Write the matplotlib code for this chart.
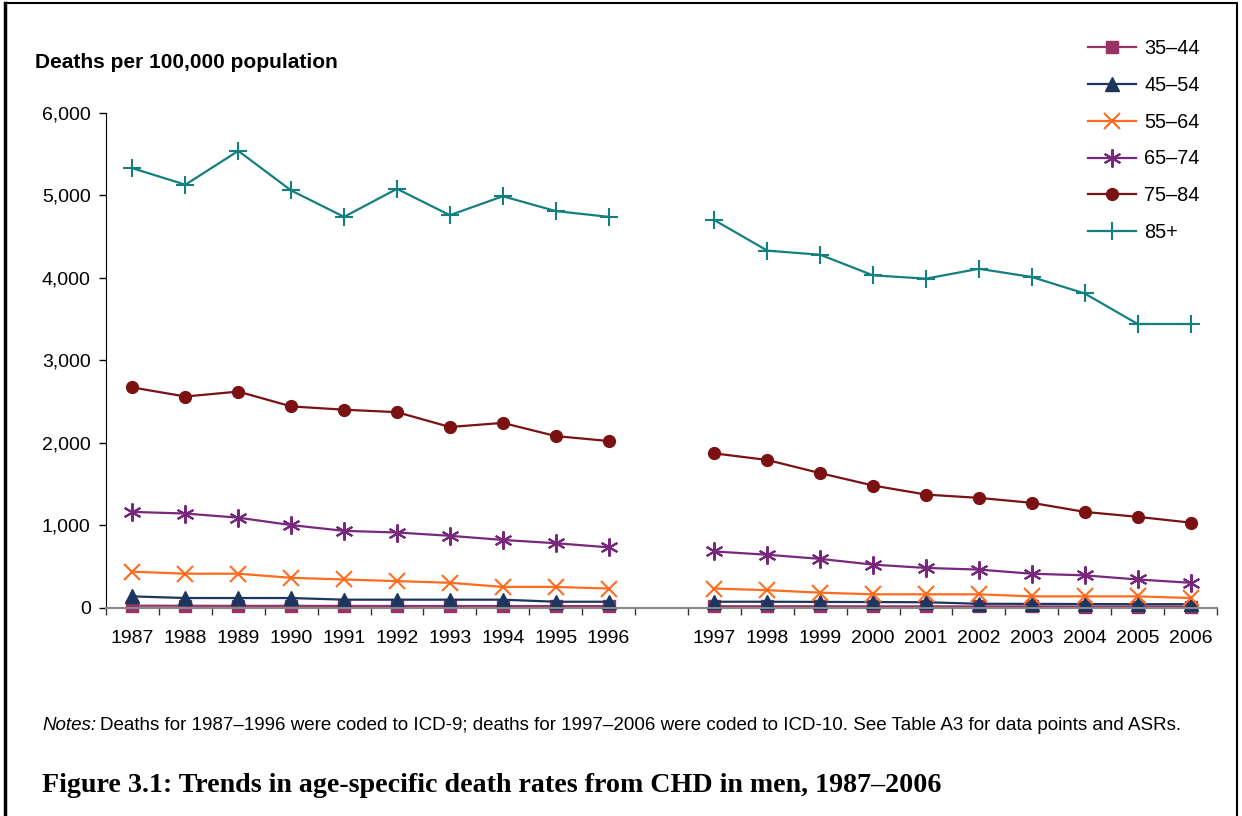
import numpy as np
import matplotlib
matplotlib.use("Agg")
import matplotlib.pyplot as plt
from matplotlib.lines import Line2D

plt.rcParams['font.family'] = ['Liberation Sans', 'DejaVu Sans']

years_icd9 = ['1987', '1988', '1989', '1990', '1991', '1992', '1993', '1994', '1995', '1996']
years_icd10 = ['1997', '1998', '1999', '2000', '2001', '2002', '2003', '2004', '2005', '2006']

ages = ['35–44', '45–54', '55–64', '65–74', '75–84', '85+']

# deaths per 100,000, 1987-1996 (ICD-9)
rates_icd9 = {
    '35–44': [22, 21, 20, 20, 19, 18, 18, 18, 17, 17],
    '45–54': [135, 115, 115, 115, 95, 95, 95, 95, 70, 70],
    '55–64': [435, 410, 410, 360, 340, 320, 300, 250, 250, 230],
    '65–74': [1160, 1140, 1090, 1000, 930, 910, 870, 820, 780, 730],
    '75–84': [2670, 2560, 2620, 2440, 2400, 2370, 2190, 2240, 2080, 2020],
    '85+': [5330, 5130, 5540, 5060, 4740, 5080, 4760, 4990, 4810, 4740],
}
# deaths per 100,000, 1997-2006 (ICD-10)
rates_icd10 = {
    '35–44': [16, 15, 15, 14, 14, 13, 13, 12, 12, 12],
    '45–54': [70, 70, 68, 66, 64, 45, 44, 42, 40, 40],
    '55–64': [230, 210, 180, 160, 160, 160, 135, 135, 135, 115],
    '65–74': [680, 640, 590, 520, 480, 460, 410, 390, 340, 300],
    '75–84': [1870, 1790, 1630, 1480, 1370, 1330, 1270, 1160, 1100, 1030],
    '85+': [4700, 4330, 4280, 4030, 3990, 4110, 4010, 3810, 3440, 3440],
}

styles = {
    '35–44': dict(color='#993366', marker='s', ms=8, mew=1),
    '45–54': dict(color='#1B365F', marker='^', ms=10, mew=1),
    '55–64': dict(color='#FF6B1F', marker='x', ms=11, mew=1.5),
    '65–74': dict(color='#77287C', marker=(6, 2, 0), ms=13, mew=1.5),
    '75–84': dict(color='#7B1113', marker='o', ms=8.5, mew=1),
    '85+': dict(color='#147F7F', marker='+', ms=13, mew=1.5),
}

labels = years_icd9 + [''] + years_icd10
x = np.arange(len(labels))

fig = plt.figure(figsize=(12.42, 8.16), dpi=100)
ax = fig.add_axes([106 / 1242, 1 - 607.5 / 816, (1217 - 106) / 1242, (607.5 - 113) / 816])

for age in ages:
    vals = rates_icd9[age] + [np.nan] + rates_icd10[age]
    st = styles[age]
    ax.plot(x, vals, color=st['color'], lw=1.6, marker=st['marker'],
            markersize=st['ms'], markeredgewidth=st['mew'], label=age, clip_on=False)

ax.set_xlim(-0.5, len(labels) - 0.5)
ax.set_ylim(0, 6000)
ax.set_yticks(np.arange(0, 6001, 1000))
ax.set_yticklabels([f'{v:,}' for v in range(0, 6001, 1000)], fontsize=14)
ax.set_xticks(x)
ax.set_xticklabels(labels, fontsize=14)
ax.tick_params(axis='x', which='major', length=0, pad=16)
ax.set_xticks(np.arange(-0.5, len(labels), 1), minor=True)
ax.tick_params(axis='x', which='minor', length=5, width=1, color='#333333', direction='out')
ax.tick_params(axis='y', length=5, width=1, direction='out', pad=6)

for s in ['top', 'right']:
    ax.spines[s].set_visible(False)
ax.spines['left'].set_color('black')
ax.spines['bottom'].set_color('#888888')
ax.spines['bottom'].set_linewidth(1.5)

fig.text(35 / 1242, 1 - 63 / 816, 'Deaths per 100,000 population', fontsize=15,
         fontweight='bold', va='center', ha='left')

leg = ax.legend(loc='upper left', bbox_to_anchor=(1070 / 1242, 1 - 21 / 816),
                bbox_transform=fig.transFigure, frameon=False, fontsize=14.3,
                handlelength=2.4, labelspacing=0.9, handletextpad=0.45)

fig.text(42 / 1242, 1 - 725 / 816, 'Notes:', fontsize=13.5, style='italic', va='center')
fig.text(100 / 1242, 1 - 725 / 816,
         'Deaths for 1987–1996 were coded to ICD-9; deaths for 1997–2006 were coded to ICD-10. '
         'See Table A3 for data points and ASRs.', fontsize=13.5, va='center')

fig.text(42 / 1242, 1 - 785 / 816,
         'Figure 3.1: Trends in age-specific death rates from CHD in men, 1987–2006',
         fontsize=20.2, fontweight='bold', family=['Liberation Serif', 'DejaVu Serif'], va='center')

# border lines around the figure box
fig.add_artist(Line2D([4.5 / 1242, 4.5 / 1242], [0, 1 - 3 / 816], transform=fig.transFigure, color='black', lw=2.5))
fig.add_artist(Line2D([1237 / 1242, 1237 / 1242], [0, 1 - 3 / 816], transform=fig.transFigure, color='black', lw=1.5))
fig.add_artist(Line2D([4.5 / 1242, 1237 / 1242], [1 - 3 / 816, 1 - 3 / 816], transform=fig.transFigure, color='black', lw=1.5))

fig.savefig('out.png', dpi=100)
